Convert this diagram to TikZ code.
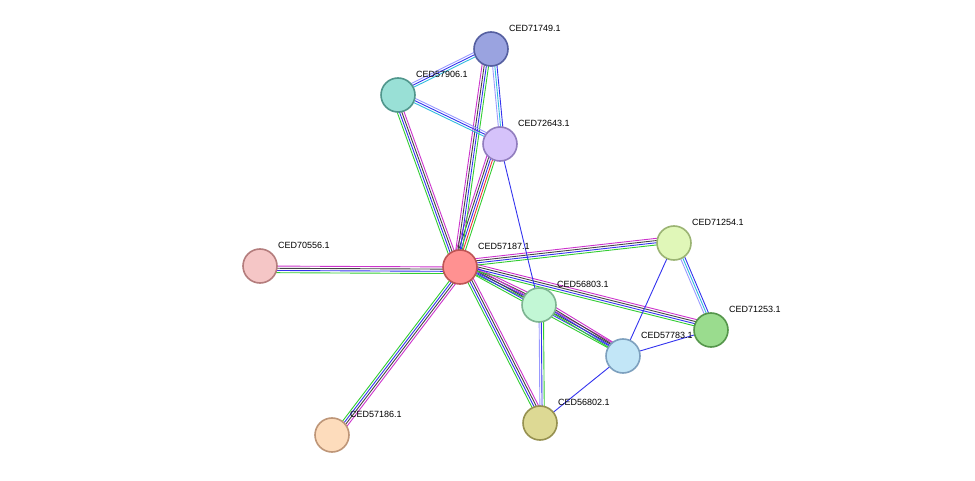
\documentclass[tikz,border=0pt]{standalone}
\usepackage{fontspec}
\setmainfont{Liberation Sans}
\usetikzlibrary{calc}
\definecolor{cgreen}{HTML}{33CC33}
\definecolor{cblue}{HTML}{3333EE}
\definecolor{cblack}{HTML}{444444}
\definecolor{cmag}{HTML}{CC33CC}
\definecolor{cred}{HTML}{EE3333}
\definecolor{clblue}{HTML}{9999FF}
\definecolor{ccyan}{HTML}{33BBDD}
% one coloured strand per evidence type, side by side
\newcommand{\linkage}[3]{%
  \foreach \col [count=\i] in {#3} {
    \pgfmathsetmacro{\off}{(\i-1)*2.2}
    \draw[\col, line width=0.9pt]
      ($(#1.center)!\off pt!90:(#2.center)$) -- ($(#2.center)!\off pt!-90:(#1.center)$);
  }}
\begin{document}
\begin{tikzpicture}[x=1pt, y=-1pt,
    prot/.style={draw, circle, minimum size=34pt, inner sep=0pt, line width=1.6pt},
    tag/.style={anchor=west, font=\fontsize{9}{10}\selectfont, inner sep=1pt}]
  \useasboundingbox (0,0) rectangle (975,481);
  \node[prot, fill={rgb,255:red,255;green,145;blue,145}, draw={rgb,255:red,190;green,85;blue,85}] (a) at (460,267) {};
  \node[prot, fill={rgb,255:red,154;green,163;blue,224}, draw={rgb,255:red,85;green,95;blue,160}] (b) at (491,49) {};
  \node[prot, fill={rgb,255:red,153;green,224;blue,214}, draw={rgb,255:red,80;green,150;blue,140}] (c) at (398,95) {};
  \node[prot, fill={rgb,255:red,213;green,194;blue,250}, draw={rgb,255:red,145;green,125;blue,190}] (d) at (500,144) {};
  \node[prot, fill={rgb,255:red,245;green,198;blue,198}, draw={rgb,255:red,180;green,125;blue,125}] (e) at (260,266) {};
  \node[prot, fill={rgb,255:red,224;green,247;blue,184}, draw={rgb,255:red,155;green,180;blue,115}] (f) at (674,243) {};
  \node[prot, fill={rgb,255:red,194;green,247;blue,213}, draw={rgb,255:red,125;green,180;blue,145}] (g) at (539,305) {};
  \node[prot, fill={rgb,255:red,154;green,220;blue,142}, draw={rgb,255:red,85;green,150;blue,75}] (h) at (711,330) {};
  \node[prot, fill={rgb,255:red,194;green,230;blue,247}, draw={rgb,255:red,125;green,160;blue,190}] (i) at (623,356) {};
  \node[prot, fill={rgb,255:red,221;green,217;blue,148}, draw={rgb,255:red,150;green,145;blue,80}] (j) at (540,423) {};
  \node[prot, fill={rgb,255:red,253;green,220;blue,188}, draw={rgb,255:red,190;green,150;blue,120}] (k) at (332,435) {};

  \begin{scope}[on background layer/.style={}]
  \end{scope}
  \pgfdeclarelayer{back}\pgfsetlayers{back,main}
  \begin{pgfonlayer}{back}
    \linkage{a}{e}{cmag,cblack,cblue,cgreen}
    \linkage{a}{k}{cgreen,cblue,cblack,cmag}
    \linkage{a}{j}{cgreen,cblue,cblack,cmag}
    \linkage{a}{g}{cgreen,cblue,cblack,cmag}
    \linkage{a}{i}{cgreen,cblue,cblack,cmag}
    \linkage{a}{h}{cgreen,cblue,cblack,cmag}
    \linkage{a}{f}{cgreen,cblue,cblack,cmag}
    \linkage{a}{d}{cgreen,cred,cblue,cblack,cmag}
    \linkage{a}{b}{cgreen,cblue,cblack,cmag}
    \linkage{a}{c}{cmag,cblack,cblue,cgreen}
    \linkage{c}{b}{ccyan,cblue,clblue}
    \linkage{c}{d}{ccyan,cblue,clblue}
    \linkage{b}{d}{clblue,ccyan,cblue}
    \linkage{d}{g}{cblue}
    \linkage{g}{j}{clblue,cblue,cgreen}
    \linkage{g}{i}{cgreen,cblue,cblack,cmag}
    \linkage{f}{h}{clblue,ccyan,cblue}
    \linkage{f}{i}{cblue}
    \linkage{i}{h}{cblue}
    \linkage{i}{j}{cblue}
  \end{pgfonlayer}

  \node[tag] (ta) at ($(a)+(17,-21)$) {CED57187.1};
  \node[tag] (tb) at ($(b)+(17,-21)$) {CED71749.1};
  \node[tag] (tc) at ($(c)+(17,-21)$) {CED57906.1};
  \node[tag] (td) at ($(d)+(17,-21)$) {CED72643.1};
  \node[tag] (te) at ($(e)+(17,-21)$) {CED70556.1};
  \node[tag] (tf) at ($(f)+(17,-21)$) {CED71254.1};
  \node[tag] (tg) at ($(g)+(17,-21)$) {CED56803.1};
  \node[tag] (th) at ($(h)+(17,-21)$) {CED71253.1};
  \node[tag] (ti) at ($(i)+(17,-21)$) {CED57783.1};
  \node[tag] (tj) at ($(j)+(17,-21)$) {CED56802.1};
  \node[tag] (tk) at ($(k)+(17,-21)$) {CED57186.1};
\end{tikzpicture}
\end{document}
